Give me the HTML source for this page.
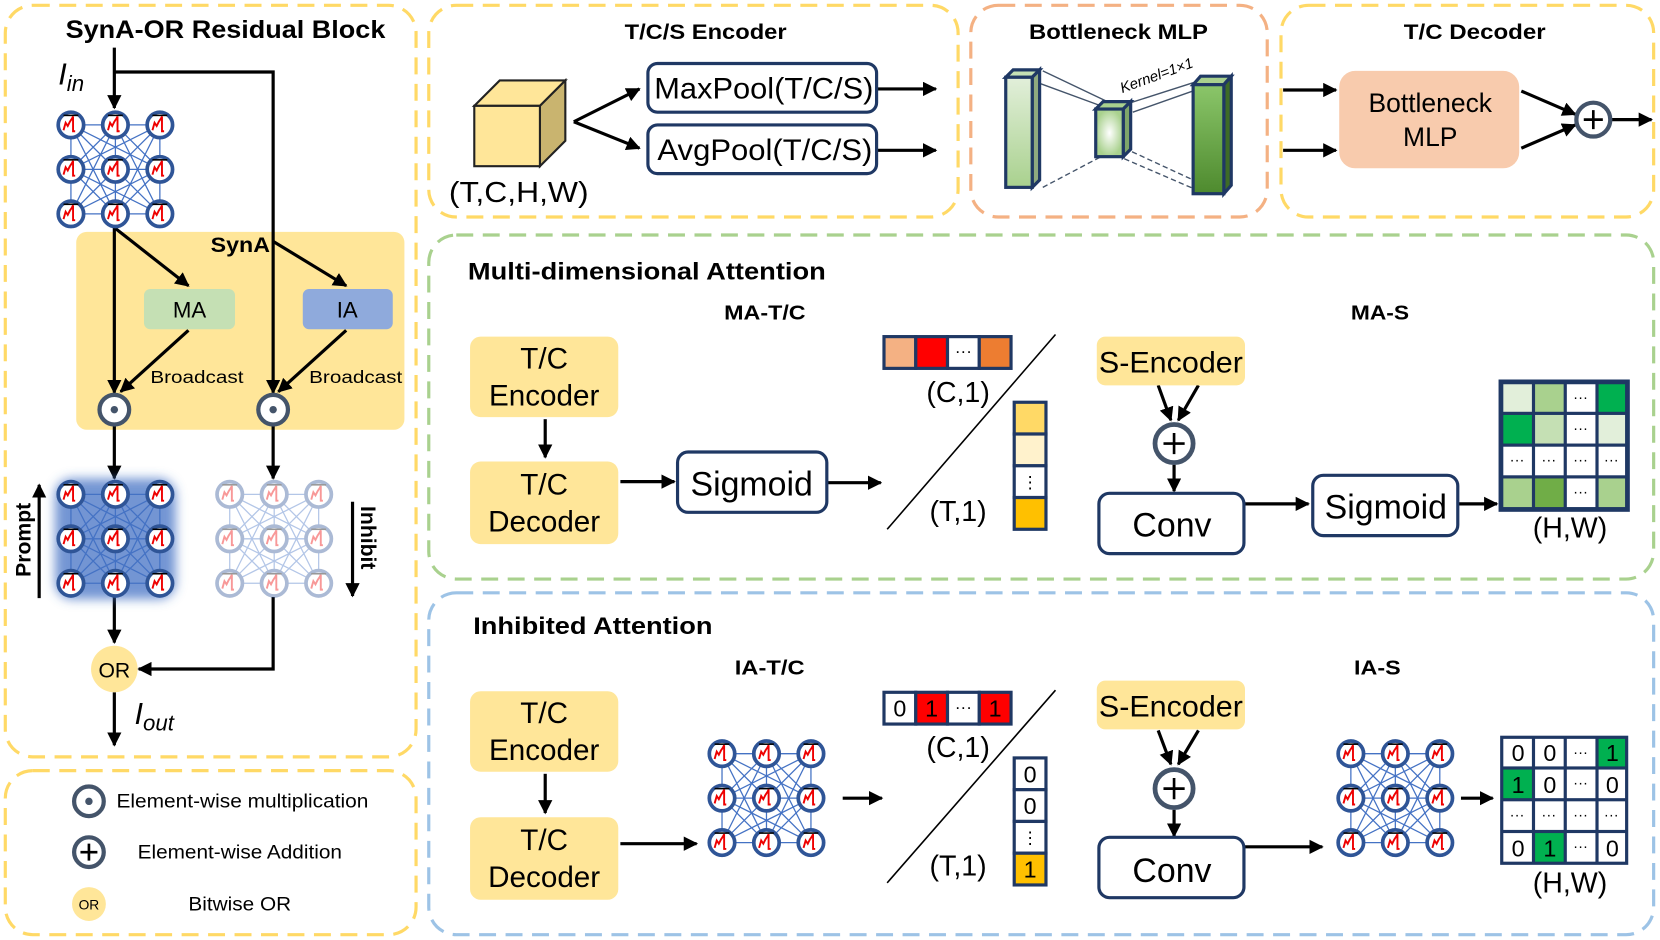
<!DOCTYPE html>
<html><head><meta charset="utf-8"><style>
html,body{margin:0;padding:0;background:#fff;}
svg{display:block;}
text{font-family:"Liberation Sans",sans-serif;}
.b{font-weight:bold;}
</style></head><body>
<svg width="1660" height="940" viewBox="0 0 1568 888" preserveAspectRatio="none" xmlns="http://www.w3.org/2000/svg">
<defs>
<marker id="ah" viewBox="0 0 10 10" refX="9" refY="5" markerWidth="4.5" markerHeight="4.5" orient="auto"><path d="M0,0 L10,5 L0,10 z" fill="#000"/></marker>
<g id="neu">
<circle r="12" fill="#fff" stroke="#2F5597" stroke-width="3.5"/>
<path d="M-7,-9 h14" stroke="#000" stroke-width="1.5"/>
<path d="M-7,5 L-5,-2 L-3,1 L-1,-3 L1,-6 L2,-8 L2,6 L4,6" fill="none" stroke="#E00" stroke-width="1.8"/>
</g>
<g id="grid">
<path d="M0,0L42,0M0,0L84,0M0,0L0,42M0,0L42,42M0,0L84,42M0,0L0,84M0,0L42,84M0,0L84,84M42,0L84,0M42,0L0,42M42,0L42,42M42,0L84,42M42,0L0,84M42,0L42,84M42,0L84,84M84,0L0,42M84,0L42,42M84,0L84,42M84,0L0,84M84,0L42,84M84,0L84,84M0,42L42,42M0,42L84,42M0,42L0,84M0,42L42,84M0,42L84,84M42,42L84,42M42,42L0,84M42,42L42,84M42,42L84,84M84,42L0,84M84,42L42,84M84,42L84,84M0,84L42,84M0,84L84,84M42,84L84,84" stroke="#4472C4" stroke-width="1.2" fill="none"/>
<use href="#neu" x="0" y="0"/><use href="#neu" x="42" y="0"/><use href="#neu" x="84" y="0"/>
<use href="#neu" x="0" y="42"/><use href="#neu" x="42" y="42"/><use href="#neu" x="84" y="42"/>
<use href="#neu" x="0" y="84"/><use href="#neu" x="42" y="84"/><use href="#neu" x="84" y="84"/>
</g>
<filter id="blur" x="-30%" y="-30%" width="160%" height="160%"><feGaussianBlur stdDeviation="5"/></filter>
<linearGradient id="g1" x1="0" y1="0" x2="0" y2="1"><stop offset="0" stop-color="#E2EFDA"/><stop offset="1" stop-color="#A9D18E"/></linearGradient>
<linearGradient id="g3" x1="0" y1="0" x2="0" y2="1"><stop offset="0" stop-color="#8BC66A"/><stop offset="1" stop-color="#4E8A2E"/></linearGradient>
<radialGradient id="g2"><stop offset="0" stop-color="#fff"/><stop offset="1" stop-color="#A9D18E"/></radialGradient>
</defs>

<!-- panels -->
<g fill="none" stroke-width="3" stroke-dasharray="16,9">
<rect x="5" y="5" width="388" height="710" rx="26" stroke="#FFD966"/>
<rect x="5" y="728" width="388" height="155" rx="26" stroke="#FFD966"/>
<rect x="405" y="5" width="500" height="200" rx="26" stroke="#FFD966"/>
<rect x="917" y="5" width="280" height="200" rx="26" stroke="#F4B183"/>
<rect x="1210" y="5" width="352" height="200" rx="26" stroke="#FFD966"/>
<rect x="405" y="222" width="1157" height="325" rx="26" stroke="#A9D18E"/>
<rect x="405" y="560" width="1157" height="323" rx="26" stroke="#9DC3E6"/>
</g>

<!-- Left block -->
<text x="62" y="36" font-size="24" class="b" textLength="302" lengthAdjust="spacingAndGlyphs">SynA-OR Residual Block</text>
<text x="55" y="80" font-size="29" font-style="italic" font-family="Liberation Serif,serif">I<tspan font-size="21" dy="6">in</tspan></text>
<rect x="72" y="219" width="310" height="187" rx="10" fill="#FFE699"/>
<text x="199" y="238" font-size="20" class="b" textLength="56" lengthAdjust="spacingAndGlyphs">SynA</text>
<g stroke="#000" stroke-width="3" fill="none">
<path d="M108,45 V102" marker-end="url(#ah)"/>
<path d="M108,68 H258 V371" marker-end="url(#ah)"/>
<path d="M108,215 V371" marker-end="url(#ah)"/>
<path d="M108,215 L178,270" marker-end="url(#ah)"/>
<path d="M258,228 L327,270" marker-end="url(#ah)"/>
<path d="M178,312 L114,370" marker-end="url(#ah)"/>
<path d="M327,312 L263,370" marker-end="url(#ah)"/>
<path d="M108,402 V452" marker-end="url(#ah)"/>
<path d="M258,402 V452" marker-end="url(#ah)"/>
<path d="M108,564 V607" marker-end="url(#ah)"/>
<path d="M258,564 V632 H131" marker-end="url(#ah)"/>
<path d="M108,654 V704" marker-end="url(#ah)"/>
<path d="M37,565 V458" marker-end="url(#ah)"/>
<path d="M333,474 V563" marker-end="url(#ah)"/>
</g>
<use href="#grid" x="67" y="118"/>
<rect x="136" y="273" width="86" height="38" rx="6" fill="#C5E0B4"/>
<text x="179" y="300" font-size="21" text-anchor="middle">MA</text>
<rect x="286" y="273" width="85" height="38" rx="6" fill="#8FAADC"/>
<text x="328" y="300" font-size="21" text-anchor="middle">IA</text>
<text x="142" y="362" font-size="17" textLength="88" lengthAdjust="spacingAndGlyphs">Broadcast</text>
<text x="292" y="362" font-size="17" textLength="88" lengthAdjust="spacingAndGlyphs">Broadcast</text>
<g fill="#fff" stroke="#44546A" stroke-width="4"><circle cx="108" cy="387" r="14"/><circle cx="258" cy="387" r="14"/></g>
<circle cx="108" cy="387" r="3.5" fill="#44546A"/><circle cx="258" cy="387" r="3.5" fill="#44546A"/>
<g filter="url(#blur)" fill="#4472C4"><rect x="52" y="452" width="114" height="114" rx="16" opacity="0.75"/></g>
<use href="#grid" x="67" y="467"/>
<g opacity="0.4"><use href="#grid" x="217" y="467"/></g>
<text transform="translate(29,510) rotate(-90)" font-size="20" class="b" text-anchor="middle">Prompt</text>
<text transform="translate(341,508) rotate(90)" font-size="20" class="b" text-anchor="middle">Inhibit</text>
<circle cx="108" cy="632" r="22" fill="#FFE699"/>
<text x="108" y="640" font-size="20" text-anchor="middle">OR</text>
<text x="127" y="684" font-size="29" font-style="italic" font-family="Liberation Serif,serif">I<tspan font-size="21" dy="6">out</tspan></text>

<!-- legend -->
<circle cx="84" cy="757" r="14" fill="#fff" stroke="#44546A" stroke-width="4"/><circle cx="84" cy="757" r="3.5" fill="#44546A"/>
<text x="110" y="763" font-size="18" textLength="238" lengthAdjust="spacingAndGlyphs">Element-wise multiplication</text>
<circle cx="84" cy="805" r="14" fill="#fff" stroke="#44546A" stroke-width="4"/>
<path d="M76,805 h16 M84,797 v16" stroke="#000" stroke-width="2.5"/>
<text x="130" y="811" font-size="18" textLength="193" lengthAdjust="spacingAndGlyphs">Element-wise Addition</text>
<circle cx="84" cy="854" r="16" fill="#FFE699"/>
<text x="84" y="859" font-size="13" text-anchor="middle" font-family="Liberation Serif,serif">OR</text>
<text x="178" y="860" font-size="18" textLength="97" lengthAdjust="spacingAndGlyphs">Bitwise OR</text>

<!-- Encoder -->
<text x="590" y="37" font-size="20" class="b" textLength="153" lengthAdjust="spacingAndGlyphs">T/C/S Encoder</text>
<path d="M448,100 L472,76 L534,76 L510,100 z" fill="#FFE699" stroke="#222" stroke-width="2"/>
<path d="M510,100 L534,76 L534,133 L510,157 z" fill="#C9B46F" stroke="#222" stroke-width="2"/>
<rect x="448" y="100" width="62" height="57" fill="#FFE699" stroke="#222" stroke-width="2"/>
<text x="424" y="191" font-size="27" textLength="132" lengthAdjust="spacingAndGlyphs">(T,C,H,W)</text>
<g stroke="#000" stroke-width="3" fill="none">
<path d="M542,115 L604,84" marker-end="url(#ah)"/>
<path d="M542,115 L604,140" marker-end="url(#ah)"/>
<path d="M829,84 H884" marker-end="url(#ah)"/>
<path d="M829,142 H884" marker-end="url(#ah)"/>
</g>
<rect x="612" y="60" width="216" height="46" rx="9" fill="#fff" stroke="#1F3864" stroke-width="3"/>
<text x="618" y="93" font-size="28" textLength="207" lengthAdjust="spacingAndGlyphs">MaxPool(T/C/S)</text>
<rect x="612" y="118" width="216" height="46" rx="9" fill="#fff" stroke="#1F3864" stroke-width="3"/>
<text x="621" y="151" font-size="28" textLength="203" lengthAdjust="spacingAndGlyphs">AvgPool(T/C/S)</text>

<!-- Bottleneck -->
<text x="972" y="37" font-size="20" class="b" textLength="169" lengthAdjust="spacingAndGlyphs">Bottleneck MLP</text>
<g stroke="#44546A" stroke-width="1.3" fill="none">
<path d="M985,67 L1048,97 M980,78 L1040,100 M1068,97 L1140,74 M1070,106 L1138,82"/>
<path d="M985,177 L1040,148 M1062,150 L1127,178 M1062,140 L1127,170" stroke-dasharray="5,3"/>
</g>
<g stroke="#1F3864" stroke-width="3">
<path d="M950,73 L957,66 L982,66 L975,73 z" fill="#C5E0B4"/>
<path d="M975,73 L982,66 L982,170 L975,177 z" fill="#8FAA7F"/>
<rect x="950" y="73" width="25" height="104" fill="url(#g1)"/>
<path d="M1035,103 L1042,96 L1068,96 L1061,103 z" fill="#A9D18E"/>
<path d="M1061,103 L1068,96 L1068,141 L1061,148 z" fill="#7FA66A"/>
<rect x="1035" y="103" width="26" height="45" fill="url(#g2)"/>
<path d="M1127,80 L1134,72 L1163,72 L1156,80 z" fill="#A9D18E"/>
<path d="M1156,80 L1163,72 L1163,175 L1156,183 z" fill="#3E6B26"/>
<rect x="1127" y="80" width="29" height="103" fill="url(#g3)"/>
</g>
<text transform="translate(1060,88) rotate(-20)" font-size="14" font-style="italic">Kernel=1×1</text>

<!-- Decoder -->
<text x="1326" y="37" font-size="20" class="b" textLength="134" lengthAdjust="spacingAndGlyphs">T/C Decoder</text>
<g stroke="#000" stroke-width="3" fill="none">
<path d="M1212,85 H1262" marker-end="url(#ah)"/>
<path d="M1212,142 H1262" marker-end="url(#ah)"/>
<path d="M1437,86 L1488,108" marker-end="url(#ah)"/>
<path d="M1437,140 L1488,118" marker-end="url(#ah)"/>
<path d="M1522,113 H1560" marker-end="url(#ah)"/>
</g>
<rect x="1265" y="67" width="170" height="92" rx="15" fill="#F8CBAD"/>
<text x="1351" y="106" font-size="25" text-anchor="middle">Bottleneck</text>
<text x="1351" y="138" font-size="25" text-anchor="middle">MLP</text>
<circle cx="1505" cy="113" r="16" fill="#fff" stroke="#44546A" stroke-width="4"/>
<path d="M1496,113 h18 M1505,104 v18" stroke="#000" stroke-width="2.5"/>

<!-- MA panel -->
<text x="442" y="264" font-size="23" class="b" textLength="338" lengthAdjust="spacingAndGlyphs">Multi-dimensional  Attention</text>
<text x="684" y="302" font-size="19" class="b" textLength="77" lengthAdjust="spacingAndGlyphs">MA-T/C</text>
<text x="1276" y="302" font-size="19" class="b" textLength="55" lengthAdjust="spacingAndGlyphs">MA-S</text>
<rect x="444" y="318" width="140" height="76" rx="10" fill="#FFE699"/>
<text x="514" y="348" font-size="28" text-anchor="middle">T/C</text>
<text x="514" y="383" font-size="28" text-anchor="middle">Encoder</text>
<rect x="444" y="436" width="140" height="78" rx="10" fill="#FFE699"/>
<text x="514" y="467" font-size="28" text-anchor="middle">T/C</text>
<text x="514" y="502" font-size="28" text-anchor="middle">Decoder</text>
<g stroke="#000" stroke-width="3" fill="none">
<path d="M515,396 V432" marker-end="url(#ah)"/>
<path d="M586,455 H637" marker-end="url(#ah)"/>
<path d="M782,456 H832" marker-end="url(#ah)"/>
<path d="M1094,364 L1106,397" marker-end="url(#ah)"/>
<path d="M1132,364 L1113,397" marker-end="url(#ah)"/>
<path d="M1109,439 V464" marker-end="url(#ah)"/>
<path d="M1176,476 H1236" marker-end="url(#ah)"/>
<path d="M1378,476 H1414" marker-end="url(#ah)"/>
</g>
<rect x="640" y="427" width="141" height="57" rx="10" fill="#fff" stroke="#1F3864" stroke-width="3"/>
<text x="710" y="468" font-size="32" text-anchor="middle">Sigmoid</text>
<g stroke="#1F3864" stroke-width="3">
<rect x="835" y="318" width="30" height="30" fill="#F4B183"/>
<rect x="865" y="318" width="30" height="30" fill="#FF0000"/>
<rect x="895" y="318" width="30" height="30" fill="#fff"/>
<rect x="925" y="318" width="30" height="30" fill="#ED7D31"/>
<rect x="958" y="380" width="30" height="30" fill="#FFD966"/>
<rect x="958" y="410" width="30" height="30" fill="#FFF2CC"/>
<rect x="958" y="440" width="30" height="30" fill="#fff"/>
<rect x="958" y="470" width="30" height="30" fill="#FFC000"/>
</g>
<text x="910" y="337" font-size="16" text-anchor="middle">···</text>
<text x="973" y="461" font-size="16" text-anchor="middle">⋮</text>
<path d="M838,500 L997,316" stroke="#000" stroke-width="1.5"/>
<text x="905" y="380" font-size="27" text-anchor="middle">(C,1)</text>
<text x="905" y="492" font-size="27" text-anchor="middle">(T,1)</text>
<rect x="1036" y="318" width="140" height="46" rx="8" fill="#FFE699"/>
<text x="1106" y="352" font-size="28" text-anchor="middle" textLength="136" lengthAdjust="spacingAndGlyphs">S-Encoder</text>
<circle cx="1109" cy="419" r="18" fill="#fff" stroke="#44546A" stroke-width="4.5"/>
<path d="M1099,419 h20 M1109,409 v20" stroke="#000" stroke-width="2.5"/>
<rect x="1038" y="466" width="137" height="57" rx="10" fill="#fff" stroke="#1F3864" stroke-width="3"/>
<text x="1107" y="507" font-size="32" text-anchor="middle">Conv</text>
<rect x="1240" y="449" width="137" height="57" rx="10" fill="#fff" stroke="#1F3864" stroke-width="3"/>
<text x="1309" y="490" font-size="32" text-anchor="middle">Sigmoid</text>
<g stroke="#1F3864" stroke-width="3">
<rect x="1417" y="360" width="121" height="122" fill="#1F3864"/>
<rect x="1420" y="363" width="27" height="26" fill="#E2EFDA" stroke="none"/>
<rect x="1450" y="363" width="27" height="26" fill="#A9D18E" stroke="none"/>
<rect x="1480" y="363" width="27" height="26" fill="#fff" stroke="none"/>
<rect x="1510" y="363" width="25" height="26" fill="#00B050" stroke="none"/>
<rect x="1420" y="392" width="27" height="27" fill="#00B050" stroke="none"/>
<rect x="1450" y="392" width="27" height="27" fill="#C5E0B4" stroke="none"/>
<rect x="1480" y="392" width="27" height="27" fill="#fff" stroke="none"/>
<rect x="1510" y="392" width="25" height="27" fill="#E2EFDA" stroke="none"/>
<rect x="1420" y="422" width="27" height="27" fill="#fff" stroke="none"/>
<rect x="1450" y="422" width="27" height="27" fill="#fff" stroke="none"/>
<rect x="1480" y="422" width="27" height="27" fill="#fff" stroke="none"/>
<rect x="1510" y="422" width="25" height="27" fill="#fff" stroke="none"/>
<rect x="1420" y="452" width="27" height="27" fill="#A9D18E" stroke="none"/>
<rect x="1450" y="452" width="27" height="27" fill="#70AD47" stroke="none"/>
<rect x="1480" y="452" width="27" height="27" fill="#fff" stroke="none"/>
<rect x="1510" y="452" width="25" height="27" fill="#A9D18E" stroke="none"/>
</g>
<g font-size="14" text-anchor="middle">
<text x="1493" y="380">···</text><text x="1493" y="409">···</text>
<text x="1433" y="439">···</text><text x="1463" y="439">···</text><text x="1493" y="439">···</text><text x="1522" y="439">···</text>
<text x="1493" y="469">···</text>
</g>
<text x="1483" y="508" font-size="27" text-anchor="middle">(H,W)</text>

<!-- IA panel -->
<text x="447" y="599" font-size="23" class="b" textLength="226" lengthAdjust="spacingAndGlyphs">Inhibited Attention</text>
<text x="694" y="637" font-size="19" class="b" textLength="66" lengthAdjust="spacingAndGlyphs">IA-T/C</text>
<text x="1279" y="637" font-size="19" class="b" textLength="44" lengthAdjust="spacingAndGlyphs">IA-S</text>
<rect x="444" y="653" width="140" height="76" rx="10" fill="#FFE699"/>
<text x="514" y="683" font-size="28" text-anchor="middle">T/C</text>
<text x="514" y="718" font-size="28" text-anchor="middle">Encoder</text>
<rect x="444" y="772" width="140" height="78" rx="10" fill="#FFE699"/>
<text x="514" y="803" font-size="28" text-anchor="middle">T/C</text>
<text x="514" y="838" font-size="28" text-anchor="middle">Decoder</text>
<g stroke="#000" stroke-width="3" fill="none">
<path d="M515,731 V768" marker-end="url(#ah)"/>
<path d="M586,797 H658" marker-end="url(#ah)"/>
<path d="M796,754 H833" marker-end="url(#ah)"/>
<path d="M1094,690 L1106,722" marker-end="url(#ah)"/>
<path d="M1132,690 L1113,722" marker-end="url(#ah)"/>
<path d="M1109,765 V790" marker-end="url(#ah)"/>
<path d="M1176,800 H1249" marker-end="url(#ah)"/>
<path d="M1380,754 H1410" marker-end="url(#ah)"/>
</g>
<use href="#grid" x="682" y="712"/>
<g stroke="#1F3864" stroke-width="3">
<rect x="835" y="654" width="30" height="30" fill="#fff"/>
<rect x="865" y="654" width="30" height="30" fill="#FF0000"/>
<rect x="895" y="654" width="30" height="30" fill="#fff"/>
<rect x="925" y="654" width="30" height="30" fill="#FF0000"/>
<rect x="958" y="716" width="30" height="30" fill="#fff"/>
<rect x="958" y="746" width="30" height="30" fill="#fff"/>
<rect x="958" y="776" width="30" height="30" fill="#fff"/>
<rect x="958" y="806" width="30" height="30" fill="#FFC000"/>
</g>
<g font-size="22" text-anchor="middle">
<text x="850" y="677">0</text><text x="880" y="677">1</text><text x="940" y="677">1</text>
<text x="973" y="739">0</text><text x="973" y="769">0</text><text x="973" y="829">1</text>
</g>
<text x="910" y="673" font-size="16" text-anchor="middle">···</text>
<text x="973" y="797" font-size="16" text-anchor="middle">⋮</text>
<path d="M838,834 L997,652" stroke="#000" stroke-width="1.5"/>
<text x="905" y="715" font-size="27" text-anchor="middle">(C,1)</text>
<text x="905" y="827" font-size="27" text-anchor="middle">(T,1)</text>
<rect x="1036" y="643" width="140" height="46" rx="8" fill="#FFE699"/>
<text x="1106" y="677" font-size="28" text-anchor="middle" textLength="136" lengthAdjust="spacingAndGlyphs">S-Encoder</text>
<circle cx="1109" cy="745" r="18" fill="#fff" stroke="#44546A" stroke-width="4.5"/>
<path d="M1099,745 h20 M1109,735 v20" stroke="#000" stroke-width="2.5"/>
<rect x="1038" y="791" width="137" height="57" rx="10" fill="#fff" stroke="#1F3864" stroke-width="3"/>
<text x="1107" y="833" font-size="32" text-anchor="middle">Conv</text>
<use href="#grid" x="1276" y="712"/>
<g>
<rect x="1417" y="695" width="121" height="122" fill="#1F3864"/>
<rect x="1420" y="698" width="27" height="26" fill="#fff"/>
<rect x="1450" y="698" width="27" height="26" fill="#fff"/>
<rect x="1480" y="698" width="27" height="26" fill="#fff"/>
<rect x="1510" y="698" width="25" height="26" fill="#00B050"/>
<rect x="1420" y="727" width="27" height="27" fill="#00B050"/>
<rect x="1450" y="727" width="27" height="27" fill="#fff"/>
<rect x="1480" y="727" width="27" height="27" fill="#fff"/>
<rect x="1510" y="727" width="25" height="27" fill="#fff"/>
<rect x="1420" y="757" width="27" height="27" fill="#fff"/>
<rect x="1450" y="757" width="27" height="27" fill="#fff"/>
<rect x="1480" y="757" width="27" height="27" fill="#fff"/>
<rect x="1510" y="757" width="25" height="27" fill="#fff"/>
<rect x="1420" y="787" width="27" height="27" fill="#fff"/>
<rect x="1450" y="787" width="27" height="27" fill="#00B050"/>
<rect x="1480" y="787" width="27" height="27" fill="#fff"/>
<rect x="1510" y="787" width="25" height="27" fill="#fff"/>
</g>
<g font-size="22" text-anchor="middle">
<text x="1434" y="719">0</text><text x="1464" y="719">0</text><text x="1523" y="719">1</text>
<text x="1434" y="749">1</text><text x="1464" y="749">0</text><text x="1523" y="749">0</text>
<text x="1434" y="809">0</text><text x="1464" y="809">1</text><text x="1523" y="809">0</text>
</g>
<g font-size="14" text-anchor="middle">
<text x="1493" y="715">···</text><text x="1493" y="744">···</text>
<text x="1433" y="774">···</text><text x="1463" y="774">···</text><text x="1493" y="774">···</text><text x="1522" y="774">···</text>
<text x="1493" y="804">···</text>
</g>
<text x="1483" y="843" font-size="27" text-anchor="middle">(H,W)</text>
</svg>
</body></html>
